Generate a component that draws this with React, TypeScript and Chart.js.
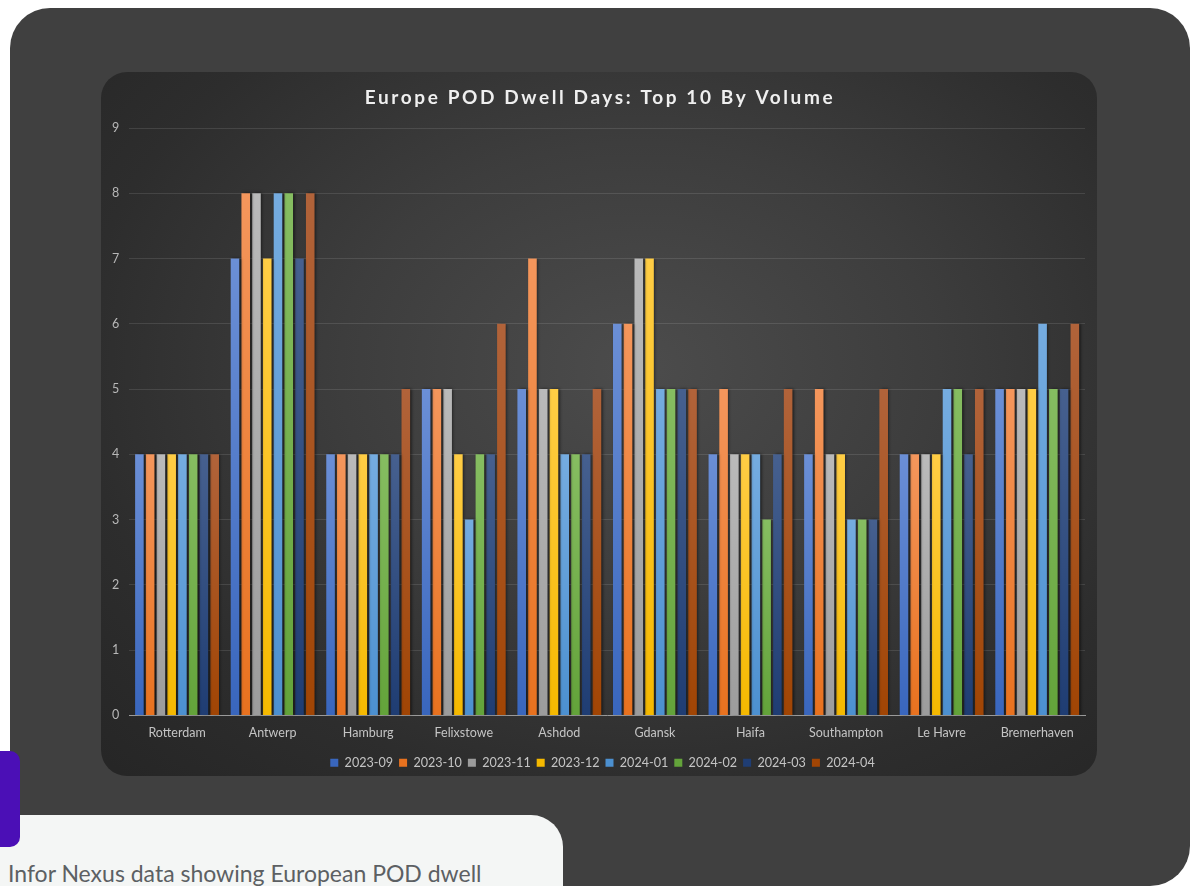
import { useEffect, useRef } from 'react';
import { Chart, registerables } from 'chart.js';

Chart.register(...registerables);

// Ports, in volume order
const ports = [
  'Rotterdam',
  'Antwerp',
  'Hamburg',
  'Felixstowe',
  'Ashdod',
  'Gdansk',
  'Haifa',
  'Southampton',
  'Le Havre',
  'Bremerhaven',
];

// Months shown as series
const months = ['2023-09', '2023-10', '2023-11', '2023-12', '2024-01', '2024-02', '2024-03', '2024-04'];

// Dwell days per port, one array per month
const dwell202309 = [4, 7, 4, 5, 5, 6, 4, 4, 4, 5];
const dwell202310 = [4, 8, 4, 5, 7, 6, 5, 5, 4, 5];
const dwell202311 = [4, 8, 4, 5, 5, 7, 4, 4, 4, 5];
const dwell202312 = [4, 7, 4, 4, 5, 7, 4, 4, 4, 5];
const dwell202401 = [4, 8, 4, 3, 4, 5, 4, 3, 5, 6];
const dwell202402 = [4, 8, 4, 4, 4, 5, 3, 3, 5, 5];
const dwell202403 = [4, 7, 4, 4, 4, 5, 4, 3, 4, 5];
const dwell202404 = [4, 8, 5, 6, 5, 5, 5, 5, 5, 6];

const yTicks = [0, 1, 2, 3, 4, 5, 6, 7, 8, 9];

const seriesValues = [
  dwell202309,
  dwell202310,
  dwell202311,
  dwell202312,
  dwell202401,
  dwell202402,
  dwell202403,
  dwell202404,
];

// Office palette: solid, light (bar top) and dark (bar bottom)
const palette = [
  { base: '#4472C4', light: '#6b8fd6', dark: '#3966bd' },
  { base: '#ED7D31', light: '#f4965c', dark: '#e8721f' },
  { base: '#A5A5A5', light: '#bababa', dark: '#9c9c9c' },
  { base: '#FFC000', light: '#ffcd45', dark: '#f5b900' },
  { base: '#5B9BD5', light: '#75ace0', dark: '#4c90d0' },
  { base: '#70AD47', light: '#86bd61', dark: '#63a33a' },
  { base: '#264478', light: '#46608f', dark: '#1f3d73' },
  { base: '#9E480E', light: '#b1633a', dark: '#a14504' },
];

const TITLE = 'Europe POD Dwell Days: Top 10 By Volume';
const FONT = 'Lato, "Noto Sans", sans-serif';

const titlePlugin = {
  id: 'spacedTitle',
  afterDraw(chart: any) {
    const ctx = chart.ctx;
    ctx.save();
    ctx.font = 'bold 19px ' + FONT;
    (ctx as any).letterSpacing = '2.6px';
    ctx.fillStyle = '#efefef';
    ctx.textAlign = 'center';
    ctx.textBaseline = 'middle';
    ctx.fillText(TITLE, chart.width / 2 + 1, 26);
    ctx.restore();
  },
};

// Legend row sits a little right of centre
const legendNudge = {
  id: 'legendNudge',
  afterLayout(chart: any) {
    const l = chart.legend;
    if (l) {
      l.left += 9;
      l.right += 9;
    }
  },
};

const barShadow = {
  id: 'barShadow',
  beforeDatasetsDraw(chart: any) {
    const ctx = chart.ctx;
    ctx.save();
    ctx.shadowColor = 'rgba(0,0,0,0.55)';
    ctx.shadowBlur = 3;
    ctx.shadowOffsetX = 1.5;
    ctx.shadowOffsetY = 0;
  },
  afterDatasetsDraw(chart: any) {
    chart.ctx.restore();
  },
};

function DwellChart() {
  const ref = useRef<HTMLCanvasElement | null>(null);

  useEffect(() => {
    if (!ref.current) return;
    const datasets = months.map((m, i) => {
      const c = palette[i];
      return {
        label: m,
        data: seriesValues[i],
        borderWidth: 0,
        backgroundColor: (ctx: any) => {
          if (ctx.type !== 'data') return c.base;
          const chart = ctx.chart;
          const y = chart.scales && chart.scales.y;
          if (!y) return c.base;
          const top = y.getPixelForValue(ctx.raw);
          const bottom = y.getPixelForValue(0);
          if (!isFinite(top) || !isFinite(bottom) || top === bottom) return c.base;
          const g = chart.ctx.createLinearGradient(0, top, 0, bottom);
          g.addColorStop(0, c.light);
          g.addColorStop(1, c.dark);
          return g;
        },
        categoryPercentage: 0.9,
        barPercentage: 0.8,
      };
    });

    const chart = new Chart(ref.current, {
      type: 'bar',
      data: { labels: ports, datasets },
      options: {
        responsive: false,
        animation: false,
        maintainAspectRatio: false,
        layout: { padding: { top: 56, left: 1, right: 12, bottom: -3 } },
        plugins: {
          title: { display: false },
          tooltip: { enabled: false },
          legend: {
            position: 'bottom',
            labels: {
              boxWidth: 8,
              boxHeight: 8,
              padding: 6,
              color: '#c4c4c4',
              font: { family: FONT, size: 12.6 },
            },
          },
        },
        scales: {
          x: {
            grid: { display: false, drawTicks: false },
            border: { display: true, color: '#9a9a9a', width: 1 },
            ticks: {
              color: '#c4c4c4',
              padding: 10,
              font: { family: FONT, size: 12.5 },
            },
          },
          y: {
            min: 0,
            max: 9,
            afterBuildTicks(axis: any) {
              axis.ticks = yTicks.map((v) => ({ value: v }));
            },
            grid: { color: 'rgba(255,255,255,0.11)', drawTicks: false },
            border: { display: false },
            ticks: {
              color: '#b8b8b8',
              padding: 10,
              font: { family: FONT, size: 12.5 },
            },
          },
        },
      },
      plugins: [titlePlugin, legendNudge, barShadow],
    });
    return () => chart.destroy();
  }, []);

  return <canvas ref={ref} width={996} height={704} style={{ display: 'block' }} />;
}

export default function App() {
  return (
    <div
      style={{
        position: 'fixed',
        left: 0,
        top: 0,
        width: 1198,
        height: 886,
        background: '#ffffff',
        overflow: 'hidden',
      }}
    >
      <div
        style={{
          position: 'absolute',
          left: 10,
          top: 8,
          width: 1180,
          height: 878,
          borderRadius: 40,
          background: '#404040',
        }}
      />
      <div
        style={{
          position: 'absolute',
          left: 101,
          top: 72,
          width: 996,
          height: 704,
          borderRadius: 26,
          overflow: 'hidden',
          background:
            'radial-gradient(ellipse 75% 80% at 54% 42%, #4c4c4c 0%, #3d3d3d 40%, #2d2d2d 75%, #262626 100%)',
        }}
      >
        <DwellChart />
      </div>
      <div
        style={{
          position: 'absolute',
          left: 0,
          top: 815,
          width: 563,
          height: 120,
          borderTopRightRadius: 32,
          background: '#f4f6f5',
        }}
      />
      <div
        style={{
          position: 'absolute',
          left: 0,
          top: 751,
          width: 20,
          height: 96,
          borderRadius: '0 10px 10px 0',
          background: '#4b0fb6',
        }}
      />
      <div
        style={{
          position: 'absolute',
          left: 8,
          top: 857,
          whiteSpace: 'nowrap',
          fontFamily: FONT,
          fontSize: 23,
          lineHeight: '32px',
          color: '#5c6063',
        }}
      >
        Infor Nexus data showing European POD dwell
      </div>
    </div>
  );
}
